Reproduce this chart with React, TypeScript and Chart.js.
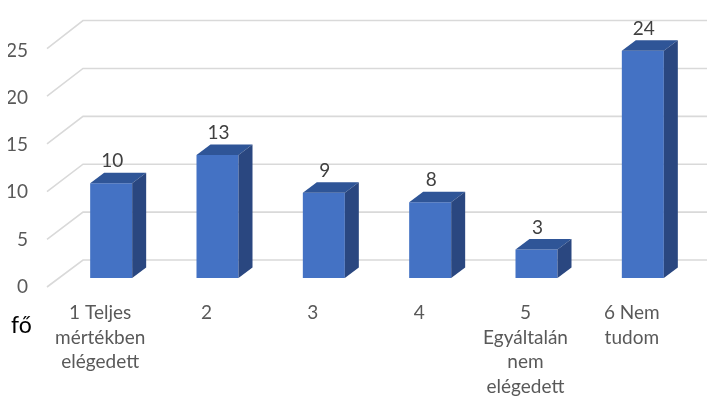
import { useEffect, useRef } from "react";
import { Chart, registerables } from "chart.js";

Chart.register(...registerables);

const categories: (string | string[])[] = [
  ["1 Teljes", "mértékben", "elégedett"],
  "2",
  "3",
  "4",
  ["5", "Egyáltalán", "nem", "elégedett"],
  ["6 Nem", "tudom"],
];
const values: number[] = [10, 13, 9, 8, 3, 24];
const yMin = 0;
const yMax = 25;
const yStep = 5;
const unitLabel = "fő";

const FONT = "Lato, 'Open Sans', sans-serif";
const FRONT = "#4472C4";
const TOP = "#2F5597";
const SIDE = "#2A4780";
const GRID = "#D9D9D9";
const TEXT = "#595959";

export default function App() {
  const ref = useRef<HTMLCanvasElement>(null);

  useEffect(() => {
    if (!ref.current) return;
    const DX = 14;
    const DY = 10.5;

    const threeD = {
      id: "threeD",
      beforeDatasetsDraw(chart: any) {
        const { ctx, chartArea } = chart;
        const y = chart.scales.y;
        const z = y.getPixelForValue(0);
        ctx.save();
        ctx.strokeStyle = GRID;
        ctx.lineWidth = 1.6;
        y.ticks.forEach((t: any) => {
          const p = y.getPixelForValue(t.value);
          const back = z - 18 + (p - z) * 1.012;
          const front = z + 9 + (p - z) * 1.008;
          ctx.beginPath();
          ctx.moveTo(chartArea.left - 11, front);
          ctx.lineTo(chartArea.left + 25, back);
          ctx.lineTo(chartArea.right + 11, back);
          ctx.stroke();
        });
        ctx.restore();
      },
      afterDatasetsDraw(chart: any) {
        const { ctx } = chart;
        const meta = chart.getDatasetMeta(0);
        ctx.save();
        meta.data.forEach((bar: any, i: number) => {
          const { x, y, base, width } = bar.getProps(["x", "y", "base", "width"], true);
          const l = x - width / 2;
          const r = x + width / 2;
          // top face
          ctx.fillStyle = TOP;
          ctx.beginPath();
          ctx.moveTo(l, y);
          ctx.lineTo(l + DX, y - DY);
          ctx.lineTo(r + DX, y - DY);
          ctx.lineTo(r, y);
          ctx.closePath();
          ctx.fill();
          // side face
          ctx.fillStyle = SIDE;
          ctx.beginPath();
          ctx.moveTo(r, y);
          ctx.lineTo(r + DX, y - DY);
          ctx.lineTo(r + DX, base - DY);
          ctx.lineTo(r, base);
          ctx.closePath();
          ctx.fill();
          // value label
          ctx.fillStyle = "#404040";
          ctx.font = `19px ${FONT}`;
          ctx.textAlign = "center";
          ctx.textBaseline = "middle";
          ctx.fillText(String(values[i]), x + 1, y - 22);
        });
        ctx.restore();
      },
      afterDraw(chart: any) {
        const { ctx, chartArea } = chart;
        ctx.save();
        ctx.fillStyle = "#000000";
        ctx.font = `23px ${FONT}`;
        ctx.textAlign = "left";
        ctx.textBaseline = "middle";
        ctx.fillText(unitLabel, chartArea.left - 47, chartArea.bottom + 48);
        ctx.restore();
      },
    };

    const chart = new Chart(ref.current, {
      type: "bar",
      data: {
        labels: categories,
        datasets: [
          {
            data: values,
            backgroundColor: FRONT,
            borderWidth: 0,
            barPercentage: 0.395,
            categoryPercentage: 1,
          },
        ],
      },
      options: {
        responsive: false,
        animation: false,
        layout: { padding: { left: 8, top: 38, right: 12, bottom: 0 } },
        plugins: {
          legend: { display: false },
          tooltip: { enabled: false },
          title: { display: false },
        },
        scales: {
          x: {
            grid: { display: false, drawTicks: false },
            border: { display: false },
            afterFit: (s: any) => {
              s.height = 119;
            },
            ticks: {
              color: TEXT,
              font: { family: FONT, size: 19, lineHeight: 1.29 },
              padding: 23,
              labelOffset: -11,
              autoSkip: false,
              maxRotation: 0,
              minRotation: 0,
            },
          },
          y: {
            min: yMin,
            max: yMax,
            grid: { display: false, drawTicks: false },
            border: { display: false },
            afterFit: (s: any) => {
              s.width = 50;
            },
            ticks: {
              stepSize: yStep,
              color: TEXT,
              font: { family: FONT, size: 19 },
              padding: 30,
              labelOffset: 9,
            },
          },
        },
      },
      plugins: [threeD],
    });
    return () => chart.destroy();
  }, []);

  return (
    <div
      style={{
        position: "absolute",
        left: 0,
        top: 0,
        width: 708,
        height: 397,
        background: "#ffffff",
      }}
    >
      <canvas ref={ref} width={708} height={397} style={{ display: "block" }} />
    </div>
  );
}
